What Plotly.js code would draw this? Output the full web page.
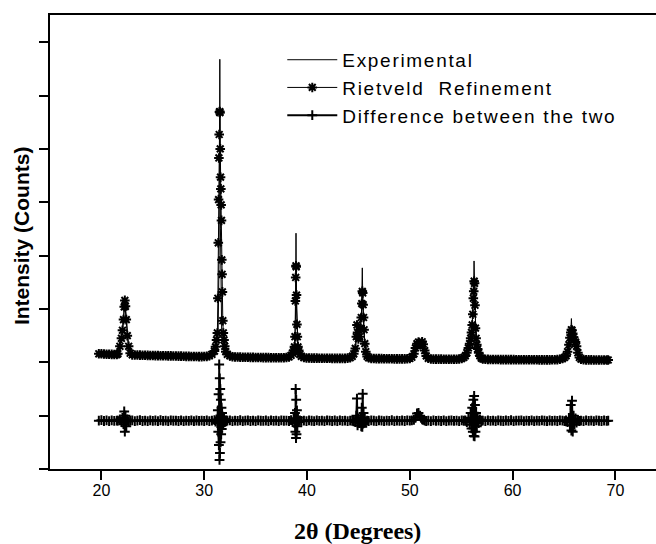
<!DOCTYPE html>
<html>
<head>
<meta charset="utf-8">
<script src="https://cdn.plot.ly/plotly-3.0.1.min.js"></script>
<style>
  html, body { margin: 0; padding: 0; background: #fff; }
  #chart { width: 656px; height: 544px; }
  .legendtext { letter-spacing: 1.7px; }
  .annotation-text.x-title { letter-spacing: 0.8px; }
</style>
</head>
<body>
<div id="chart"></div>
<script>
// Measured XRD pattern (2θ in degrees, intensity in counts)
const expTheta = [
  19.75, 21.0, 21.7, 21.9, 22.1, 22.28, 22.4, 22.6, 22.8,
  24, 26, 28, 30,
  30.7, 31.0, 31.2, 31.35, 31.45, 31.52, 31.58, 31.7, 31.9, 32.2,
  33, 35, 37,
  38.4, 38.65, 38.82, 38.88, 38.93, 38.98, 39.1, 39.35,
  41, 43,
  44.4, 44.65, 44.8, 44.86, 44.95, 45.1, 45.3, 45.38, 45.45, 45.6, 45.85,
  47.5, 49.5,
  50.3, 50.55, 50.8, 51.0, 51.2, 51.4, 51.65,
  53,
  55.2, 55.6, 55.9, 56.1, 56.2, 56.25, 56.3, 56.4, 56.6, 56.95,
  58.5, 61, 63.5,
  65.1, 65.35, 65.55, 65.66, 65.72, 65.78, 65.95, 66.1, 66.3, 66.55,
  67.5, 69.3
];
const expCounts = [
  2160, 2148, 2200, 2400, 2700, 3120, 2800, 2350, 2180,
  2133, 2122, 2114, 2108,
  2140, 2210, 2350, 2500, 4000, 7680, 4500, 2600, 2400, 2150,
  2100, 2091, 2085,
  2120, 2180, 2350, 2800, 4420, 3000, 2350, 2150,
  2077, 2073,
  2110, 2200, 2420, 2780, 2450, 2420, 2900, 3770, 2900, 2400, 2120,
  2067, 2064,
  2120, 2280, 2380, 2330, 2390, 2280, 2110,
  2059,
  2085, 2220, 2420, 2820, 3300, 3900, 3300, 2700, 2300, 2090,
  2052, 2048, 2046,
  2095, 2220, 2450, 2560, 2820, 2560, 2450, 2400, 2220, 2070,
  2045, 2043
];

// Refinement grid (shared by calculated profile and difference curve)
const calcTheta = [
  19.75, 20.0, 20.25, 20.5, 20.75, 21.0, 21.25, 21.5,
  21.6, 21.8, 21.95, 22.05, 22.15, 22.22, 22.28, 22.34, 22.42, 22.52, 22.65, 22.8,
  23.0, 23.25, 23.5, 23.75, 24.0, 24.25, 24.5, 24.75, 25.0, 25.25, 25.5, 25.75, 26.0, 26.25, 26.5, 26.75, 27.0,
  27.25, 27.5, 27.75, 28.0, 28.25, 28.5, 28.75, 29.0, 29.25, 29.5, 29.75, 30.0, 30.25, 30.5, 30.75, 31.0, 31.1,
  31.2, 31.28, 31.33, 31.37, 31.40, 31.43, 31.46, 31.49, 31.51, 31.53, 31.56, 31.59, 31.62, 31.65, 31.68, 31.71,
  31.74, 31.77, 31.81, 31.86, 31.93, 32.0, 32.1,
  32.25, 32.5, 32.75, 33.0, 33.25, 33.5, 33.75, 34.0, 34.25, 34.5, 34.75, 35.0, 35.25, 35.5, 35.75, 36.0,
  36.25, 36.5, 36.75, 37.0, 37.25, 37.5, 37.75, 38.0, 38.25, 38.45,
  38.6, 38.7, 38.78, 38.83, 38.87, 38.9, 38.93, 38.95, 38.98, 39.02, 39.06, 39.12, 39.2, 39.3,
  39.45, 39.7, 39.95, 40.2, 40.45, 40.7, 40.95, 41.2, 41.45, 41.7, 41.95, 42.2, 42.45, 42.7, 42.95, 43.2,
  43.45, 43.7, 43.95, 44.2, 44.4,
  44.55, 44.7, 44.8, 44.86, 44.92, 45.0, 45.1, 45.2, 45.28, 45.33, 45.38, 45.42, 45.46, 45.5, 45.55, 45.62,
  45.72, 45.85,
  46.0, 46.25, 46.5, 46.75, 47.0, 47.25, 47.5, 47.75, 48.0, 48.25, 48.5, 48.75, 49.0, 49.25, 49.5, 49.75,
  50.0, 50.2,
  50.4, 50.55, 50.7, 50.85, 51.0, 51.1, 51.2, 51.3, 51.45, 51.6,
  51.8, 52.05, 52.3, 52.55, 52.8, 53.05, 53.3, 53.55, 53.8, 54.05, 54.3, 54.55, 54.8, 55.05, 55.25,
  55.4, 55.55, 55.7, 55.82, 55.92, 56.0, 56.07, 56.13, 56.18, 56.22, 56.26, 56.3, 56.34, 56.39, 56.45, 56.52,
  56.6, 56.7, 56.82, 56.95,
  57.1, 57.35, 57.6, 57.85, 58.1, 58.35, 58.6, 58.85, 59.1, 59.35, 59.6, 59.85, 60.1, 60.35, 60.6, 60.85,
  61.1, 61.35, 61.6, 61.85, 62.1, 62.35, 62.6, 62.85, 63.1, 63.35, 63.6, 63.85, 64.1, 64.35, 64.6, 64.85, 65.05,
  65.2, 65.35, 65.48, 65.58, 65.66, 65.72, 65.78, 65.85, 65.93, 66.02, 66.12, 66.22, 66.35, 66.5,
  66.65, 66.9, 67.15, 67.4, 67.65, 67.9, 68.15, 68.4, 68.65, 68.9, 69.15, 69.3
];

// Rietveld calculated profile (counts)
const calcCounts = [
  2160, 2160, 2155, 2150, 2150, 2148, 2145, 2145,
  2160, 2300, 2450, 2600, 2800, 3040, 3160, 3050, 2800, 2500, 2300, 2170,
  2140, 2138, 2136, 2134, 2132, 2131, 2130, 2128, 2127, 2126, 2125, 2124, 2123, 2122, 2121, 2120, 2119,
  2118, 2116, 2115, 2114, 2112, 2111, 2110, 2109, 2108, 2107, 2107, 2108, 2112, 2122, 2150, 2210, 2290,
  2420, 2550, 3200, 4240, 5050, 5830, 6270, 6690, 6700, 6680, 6000, 5470, 5250, 4950, 4660, 3920,
  3650, 3320, 2780, 2550, 2420, 2300, 2200,
  2150, 2120, 2105, 2100, 2098, 2097, 2096, 2095, 2094, 2093, 2092, 2091, 2090, 2089, 2088, 2088,
  2087, 2086, 2086, 2085, 2085, 2084, 2086, 2090, 2100, 2130,
  2170, 2220, 2290, 2480, 3150, 3590, 3810, 3790, 3260, 2710, 2480, 2290, 2220, 2150,
  2110, 2090, 2082, 2080, 2079, 2078, 2078, 2077, 2076, 2076, 2075, 2075, 2074, 2074, 2073, 2073,
  2073, 2074, 2078, 2088, 2110,
  2160, 2260, 2480, 2700, 2560, 2440, 2480, 2640, 2840, 3100, 3330, 3300, 3080, 2840, 2610, 2350,
  2200, 2110,
  2085, 2074, 2070, 2069, 2068, 2068, 2067, 2067, 2066, 2066, 2065, 2065, 2065, 2064, 2064, 2066,
  2072, 2095,
  2160, 2270, 2350, 2380, 2330, 2340, 2385, 2340, 2220, 2120,
  2075, 2063, 2060, 2060, 2059, 2059, 2058, 2058, 2058, 2057, 2057, 2058, 2062, 2072, 2090,
  2120, 2180, 2270, 2350, 2450, 2560, 2700, 2900, 3200, 3330, 3520, 3480, 3070, 2640, 2450, 2330,
  2250, 2180, 2120, 2080,
  2062, 2056, 2054, 2053, 2053, 2052, 2052, 2051, 2051, 2051, 2050, 2050, 2050, 2049, 2049, 2049,
  2048, 2048, 2048, 2047, 2047, 2047, 2046, 2046, 2046, 2046, 2046, 2047, 2048, 2051, 2057, 2070, 2090,
  2120, 2200, 2330, 2460, 2560, 2610, 2600, 2540, 2470, 2420, 2380, 2300, 2180, 2090,
  2060, 2050, 2046, 2045, 2045, 2044, 2044, 2044, 2043, 2043, 2043, 2043
];

// Observed minus calculated, plotted with an offset (counts)
const diffCounts = [
  905, 915, 900, 910, 898, 912, 902, 908,
  905, 930, 880, 960, 840, 1080, 700, 1000, 800, 930, 890, 905,
  910, 898, 905, 915, 900, 908, 896, 912, 903, 909, 899, 914, 902, 906, 897, 911, 904,
  908, 900, 913, 898, 907, 903, 910, 897, 909, 902, 906, 900, 912, 898, 905, 915, 890,
  930, 860, 1100, 700, 1400, 450, 1960, 170, 1700, 300, 1500, 500, 1300, 650, 1150, 750,
  1050, 820, 980, 860, 940, 880, 910,
  905, 912, 899, 908, 903, 914, 897, 906, 910, 900, 908, 896, 911, 904, 902, 909,
  898, 913, 901, 907, 899, 910, 904, 906, 900, 915,
  880, 940, 860, 1050, 700, 1500, 580, 1300, 650, 1100, 800, 960, 880, 910,
  902, 908, 897, 912, 904, 899, 910, 903, 907, 896, 911, 905, 900, 909, 898, 913,
  902, 906, 899, 908, 903,
  910, 880, 1000, 1320, 820, 950, 860, 960, 800, 1150, 790, 1410, 850, 1050, 870, 940,
  890, 905,
  900, 910, 904, 897, 912, 906, 899, 908, 902, 914, 898, 907, 903, 909, 900, 911,
  905, 910,
  920, 960, 1040, 1050, 1000, 960, 930, 920, 905, 900,
  906, 898, 911, 903, 908, 900, 913, 897, 905, 909, 901, 907, 899, 912, 904,
  910, 880, 960, 830, 1050, 760, 1150, 700, 1300, 620, 1370, 610, 1200, 700, 1050, 800,
  980, 860, 930, 900,
  908, 899, 912, 903, 906, 897, 910, 904, 900, 909, 902, 914, 898, 907, 905, 911,
  899, 906, 903, 910, 897, 908, 901, 913, 904, 899, 909, 902, 907, 900, 911, 905, 898,
  910, 880, 960, 820, 1200, 720, 1280, 700, 1000, 830, 950, 870, 920, 900,
  906, 899, 910, 903, 908, 897, 912, 904, 900, 909, 902, 906
];

const seriesNames = ['Experimental', 'Rietveld\u00a0 Refinement', 'Difference between the two'];
const xTickValues = [20, 30, 40, 50, 60, 70];
const yTickValues = [0, 1000, 2000, 3000, 4000, 5000, 6000, 7000, 8000];
const xTitle = '2θ (Degrees)';
const yTitle = 'Intensity (Counts)';

const traces = [
  {
    x: expTheta, y: expCounts, name: seriesNames[0],
    type: 'scatter', mode: 'lines',
    line: { color: '#000', width: 1 }
  },
  {
    x: calcTheta, y: calcCounts, name: seriesNames[1],
    type: 'scatter', mode: 'lines+markers',
    line: { color: '#000', width: 1 },
    marker: { symbol: 'asterisk-open', size: 8, color: '#000', line: { color: '#000', width: 2 } }
  },
  {
    x: calcTheta, y: diffCounts, name: seriesNames[2],
    type: 'scatter', mode: 'lines+markers',
    line: { color: '#000', width: 2 },
    marker: { symbol: 'cross-thin-open', size: 7, color: '#000', line: { color: '#000', width: 2 } }
  }
];

const layout = {
  width: 656, height: 544,
  margin: { l: 50, r: 0, t: 15, b: 75 },
  paper_bgcolor: '#fff', plot_bgcolor: '#fff',
  showlegend: true,
  legend: {
    x: 0.3833, y: 0.943, xanchor: 'left', yanchor: 'top',
    bgcolor: 'rgba(0,0,0,0)', borderwidth: 0,
    itemwidth: 50,
    font: { family: 'Liberation Sans, Arial, sans-serif', size: 19, color: '#000' }
  },
  xaxis: {
    range: [15, 73.95],
    tickvals: xTickValues,
    ticks: 'outside', ticklen: 9, tickwidth: 2, tickcolor: '#000',
    ticklabelstandoff: -3,
    showline: true, linewidth: 2, linecolor: '#000', mirror: true,
    showgrid: false, zeroline: false,
    tickfont: { family: 'Liberation Sans Narrow, Arial Narrow, Liberation Sans, sans-serif', size: 16, color: '#000' }
  },
  yaxis: {
    range: [0, 8510],
    tickvals: yTickValues,
    showticklabels: false,
    ticks: 'outside', ticklen: 9, tickwidth: 2, tickcolor: '#000',
    showline: true, linewidth: 2, linecolor: '#000', mirror: false,
    showgrid: false, zeroline: false
  },
  annotations: [
    {
      text: xTitle, showarrow: false,
      xref: 'paper', yref: 'paper', x: 0.508, y: -0.136,
      xanchor: 'center', yanchor: 'middle',
      font: { family: 'Liberation Serif, Times New Roman, serif', size: 24, color: '#000', weight: 'bold' }
    },
    {
      text: yTitle, textangle: -90, showarrow: false,
      xref: 'paper', yref: 'paper', x: -0.048, y: 0.515,
      xanchor: 'center', yanchor: 'middle',
      font: { family: 'Liberation Sans, Arial, sans-serif', size: 21, color: '#000', weight: 'bold' }
    }
  ]
};

Plotly.newPlot('chart', traces, layout, { staticPlot: true, displayModeBar: false });
</script>
</body>
</html>
